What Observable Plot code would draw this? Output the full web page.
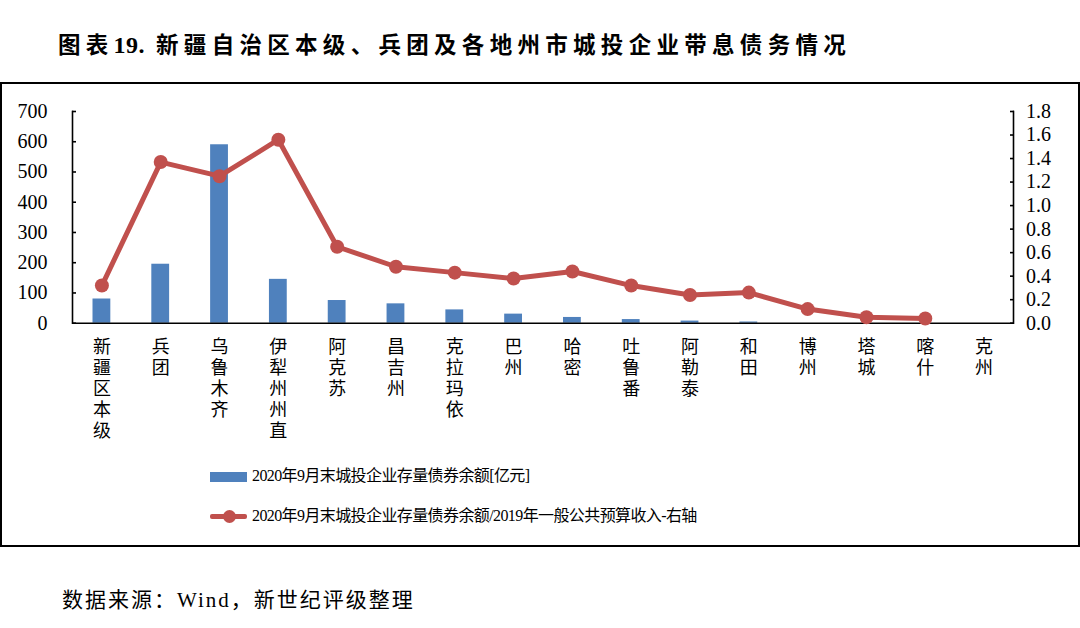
<!DOCTYPE html>
<html>
<head>
<meta charset="utf-8">
<script src="https://cdn.jsdelivr.net/npm/d3@7"></script>
<script src="https://cdn.jsdelivr.net/npm/@observablehq/plot@0.6"></script>
<style>
  html, body { margin: 0; padding: 0; background: #fff; }
  body { width: 1080px; height: 628px; position: relative; overflow: hidden;
         font-family: "Liberation Serif", "Noto Sans CJK SC", serif; color: #000; }
  #title { position: absolute; left: 58px; top: 30px; font-size: 22.5px; font-weight: 700;
           letter-spacing: 5.3px; line-height: 30px; white-space: nowrap; }
  #title .num { letter-spacing: 0.5px; font-size: 24px; }
  #box { position: absolute; left: 0px; top: 82px; width: 1076px; height: 461px;
         border: 2px solid #000; box-sizing: content-box; }
  #chart { position: absolute; left: 0px; top: 83px; }
  .leg { position: absolute; left: 210px; height: 22px; font-size: 16px; letter-spacing: -0.6px; white-space: nowrap; }
  .leg .sw { position: absolute; left: 0; }
  .leg .tx { position: absolute; left: 42px; top: 0; line-height: 22px; }
  #source { position: absolute; left: 62px; top: 586px; font-size: 21px; line-height: 28px;
            letter-spacing: 2px; white-space: nowrap; }
</style>
</head>
<body>
<div id="title">图表<span class="num">19.</span> 新疆自治区本级、兵团及各地州市城投企业带息债务情况</div>
<div id="box"></div>
<div id="chart"></div>
<div class="leg" id="leg1" style="top:465px;">
  <div class="sw" style="top:6.5px;width:37px;height:10px;background:#4f81bd;"></div>
  <div class="tx" id="legText1"></div>
</div>
<div class="leg" id="leg2" style="top:505px;">
  <div class="sw" style="top:8.5px;width:37px;height:5px;background:#c0504d;border-radius:2px;"></div>
  <div class="sw" style="top:4.5px;left:12.5px;width:13px;height:13px;border-radius:50%;background:#c0504d;"></div>
  <div class="tx" id="legText2"></div>
</div>
<div id="source">数据来源：Wind，新世纪评级整理</div>
<script>
const categories = ["新疆区本级","兵团","乌鲁木齐","伊犁州州直","阿克苏","昌吉州","克拉玛依","巴州","哈密","吐鲁番","阿勒泰","和田","博州","塔城","喀什","克州"];
const bondBalance = [80,195,590,145,75,64,44,30,19,12,7,4,0,0,0,0];
const debtRatio = [0.32,1.37,1.25,1.56,0.65,0.48,0.43,0.38,0.44,0.32,0.24,0.26,0.12,0.05,0.04,null];
const leftTicks = [0,100,200,300,400,500,600,700];
const rightTicks = [0,0.2,0.4,0.6,0.8,1.0,1.2,1.4,1.6,1.8];
const seriesNames = ["2020年9月末城投企业存量债券余额[亿元]","2020年9月末城投企业存量债券余额/2019年一般公共预算收入-右轴"];

document.getElementById("legText1").textContent = seriesNames[0];
document.getElementById("legText2").textContent = seriesNames[1];

const leftMax = 700, rightMax = 1.8;
const k = leftMax / rightMax;
const data = categories.map((c, i) => ({cat: c, bond: bondBalance[i], ratio: debtRatio[i]}));
const lineData = data.filter(d => d.ratio != null);
const font = "'Liberation Serif','Noto Sans CJK SC',serif";

const chart = Plot.plot({
  width: 1078,
  height: 462,
  marginLeft: 72,
  marginRight: 65,
  marginTop: 28,
  marginBottom: 222.3,
  style: {fontFamily: font, background: "transparent", overflow: "visible", color: "#000"},
  x: {type: "band", domain: categories, padding: 0, round: false},
  y: {domain: [0, leftMax]},
  marks: [
    Plot.barY(data, {x: "cat", y: "bond", fill: "#4f81bd", insetLeft: 20.5, insetRight: 20.5}),
    Plot.ruleY([0], {stroke: "#000", strokeWidth: 1.6}),
    Plot.frame({anchor: "left", stroke: "#000", strokeWidth: 1.6}),
    Plot.frame({anchor: "right", stroke: "#000", strokeWidth: 1.6}),
    Plot.line(lineData, {x: "cat", y: d => d.ratio * k, stroke: "#c0504d", strokeWidth: 5, strokeLinejoin: "round"}),
    Plot.dot(lineData, {x: "cat", y: d => d.ratio * k, r: 7, fill: "#c0504d", stroke: "none"}),
    Plot.axisY({anchor: "left", ticks: leftTicks, tickSize: 4, insetLeft: 4, fill: "none", label: null, strokeWidth: 1.6}),
    Plot.axisY({anchor: "left", ticks: leftTicks, tickSize: 0, tickPadding: 25, label: null, fontSize: 20, fontFamily: font}),
    Plot.axisY({anchor: "right", ticks: rightTicks.map(v => v * k), tickSize: 4, insetRight: 4, fill: "none", label: null, strokeWidth: 1.6}),
    Plot.axisY({anchor: "right", ticks: rightTicks.map(v => v * k), tickSize: 0, tickPadding: 12.5, label: null,
                fontSize: 20, fontFamily: font, tickFormat: v => (v / k).toFixed(1)}),
    Plot.axisX({anchor: "bottom", tickSize: 0, tickPadding: 15, label: null, fontSize: 18, fontFamily: font,
                lineHeight: 1.17, lineAnchor: "top", tickFormat: d => d.split("").join("\n")})
  ]
});
document.getElementById("chart").appendChild(chart);
</script>
</body>
</html>
